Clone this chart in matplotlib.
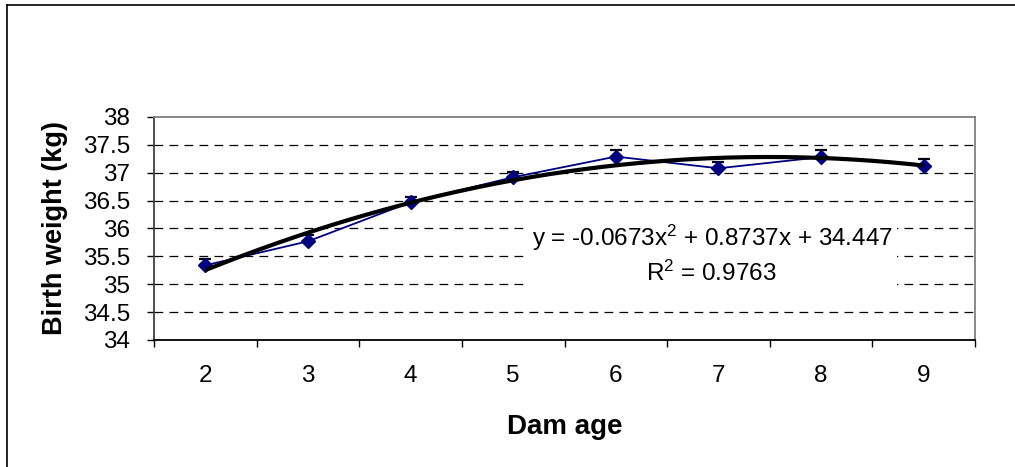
import numpy as np
import matplotlib
matplotlib.use("Agg")
import matplotlib.pyplot as plt
from matplotlib.lines import Line2D
from matplotlib.patches import Rectangle

plt.rcParams["font.family"] = ["Liberation Sans", "DejaVu Sans"]
plt.rcParams["mathtext.fontset"] = "custom"
plt.rcParams["mathtext.rm"] = "Liberation Sans"

# Birth weight by dam age (means with upper error bar)
dam_age = ["2", "3", "4", "5", "6", "7", "8", "9"]
birth_weight = [35.34, 35.77, 36.47, 36.92, 37.29, 37.08, 37.28, 37.13]
err_upper = [0.11, 0.11, 0.10, 0.10, 0.11, 0.12, 0.12, 0.11]

# Polynomial trendline (order 2) over category index 1..n
trend_coef = [-0.0673, 0.8737, 34.447]
r_squared = 0.9763

y_ticks = [34, 34.5, 35, 35.5, 36, 36.5, 37, 37.5, 38]

W, H = 1015, 467
fig = plt.figure(figsize=(W / 100, H / 100), dpi=100)
ax = fig.add_axes([154 / W, 1 - 340 / H, (975 - 154) / W, (340 - 117) / H])

idx = np.arange(1, len(dam_age) + 1)

# dashed horizontal gridlines
for yv in y_ticks[1:-1]:
    ax.axhline(yv, color="black", lw=0.9, linestyle=(0, (7, 5)), zorder=1)

# white label box sitting over the gridlines
ax.add_patch(Rectangle(((527 - 154) / 821, (340 - 298) / 223),
                       (897 - 527) / 821, (298 - 216) / 223,
                       transform=ax.transAxes, facecolor="white",
                       edgecolor="none", zorder=2))

ax.errorbar(idx, birth_weight, yerr=[np.zeros(len(err_upper)), err_upper],
            fmt="none", ecolor="black", elinewidth=1, capsize=4.5,
            capthick=1.6, zorder=3)
ax.plot(idx, birth_weight, color="#000080", lw=1.3, marker="D", ms=7.2,
        mfc="#000080", mec="#000080", zorder=4)

xs = np.linspace(idx[0], idx[-1], 200)
ax.plot(xs, np.polyval(trend_coef, xs), color="black", lw=3, zorder=5,
        solid_capstyle="butt")

a, b, c = trend_coef
ax.text((712 - 154) / 821, 1 - (238 - 117) / 223,
        f"y = {a:.4f}" + r"x$\mathregular{^2}$" + f" + {b:.4f}x + {c:.3f}",
        transform=ax.transAxes, ha="center", va="center", fontsize=17.5, zorder=6)
ax.text((711 - 154) / 821, 1 - (273 - 117) / 223,
        r"R$\mathregular{^2}$" + f" = {r_squared:.4f}",
        transform=ax.transAxes, ha="center", va="center", fontsize=17.5, zorder=6)

ax.set_xlim(0.5, len(dam_age) + 0.5)
ax.set_ylim(34, 38)
ax.set_yticks(y_ticks)
ax.set_yticklabels([f"{v:g}" for v in y_ticks])
ax.set_xticks(np.arange(0.5, len(dam_age) + 1, 1.0))
ax.set_xticklabels([])
ax.set_xticks(idx, minor=True)
ax.set_xticklabels(dam_age, minor=True)
ax.tick_params(axis="x", which="major", direction="out", length=5, width=1)
ax.tick_params(axis="x", which="minor", length=0, pad=18, labelsize=17.5)
ax.tick_params(axis="y", direction="out", length=5, width=1, pad=12, labelsize=17.5)

ax.spines["left"].set_color("#404040")
ax.spines["bottom"].set_color("black")
for s in ("top", "right"):
    ax.spines[s].set_color("#808080")
for s in ax.spines.values():
    s.set_linewidth(1.3)

ax.set_ylabel("Birth weight (kg)", fontsize=19.5, fontweight="bold", va="center")
ax.yaxis.set_label_coords((55 - 154) / 821, 0.5)
ax.set_xlabel("Dam age", fontsize=20, fontweight="bold", va="center")
ax.xaxis.set_label_coords(0.5, -(427 - 340) / 223)

# chart frame (left and top edges)
fig.add_artist(Line2D([7 / W, 7 / W], [0, 1 - 5 / H], color="black", lw=1.2))
fig.add_artist(Line2D([7 / W, 1], [1 - 5 / H, 1 - 5 / H], color="black", lw=1.2))

fig.savefig("out.png", dpi=100)
